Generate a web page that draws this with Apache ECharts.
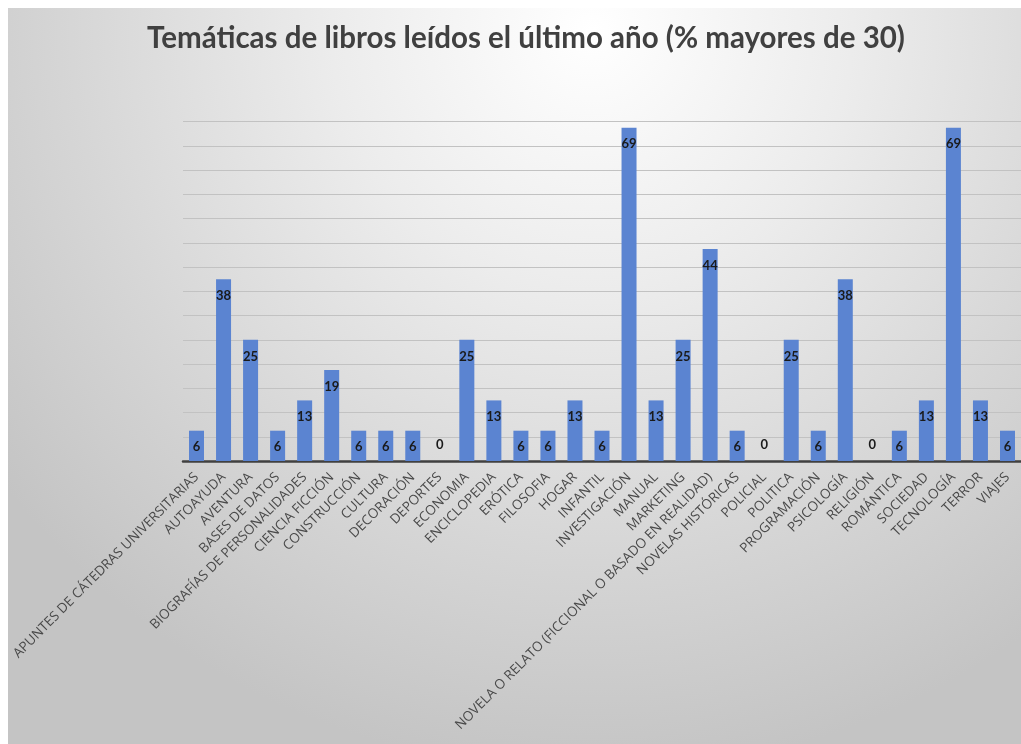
<!DOCTYPE html>
<html>
<head>
<meta charset="utf-8">
<script src="https://cdn.jsdelivr.net/npm/echarts@6/dist/echarts.min.js"></script>
<style>
html,body{margin:0;padding:0;background:#ffffff;}
#chart{width:1021px;height:744px;}
</style>
</head>
<body>
<div id="chart"></div>
<script>
const titleText = 'Temáticas de libros leídos el último año (% mayores de 30)';
const categories = [
  'APUNTES DE CÁTEDRAS UNIVERSITARIAS','AUTOAYUDA','AVENTURA','BASES DE DATOS',
  'BIOGRAFÍAS DE PERSONALIDADES','CIENCIA FICCIÓN','CONSTRUCCIÓN','CULTURA',
  'DECORACIÓN','DEPORTES','ECONOMIA','ENCICLOPEDIA','ERÓTICA','FILOSOFIA','HOGAR',
  'INFANTIL','INVESTIGACIÓN','MANUAL','MARKETING',
  'NOVELA O RELATO (FICCIONAL O BASADO EN REALIDAD)','NOVELAS HISTÓRICAS','POLICIAL',
  'POLITICA','PROGRAMACIÓN','PSICOLOGÍA','RELIGIÓN','ROMÁNTICA','SOCIEDAD',
  'TECNOLOGÍA','TERROR','VIAJES'
];
const values = [
  6.25, 37.5, 25, 6.25,
  12.5, 18.75, 6.25, 6.25,
  6.25, 0, 25, 12.5, 6.25, 6.25, 12.5,
  6.25, 68.75, 12.5, 25,
  43.75, 6.25, 0,
  25, 6.25, 37.5, 0, 6.25, 12.5,
  68.75, 12.5, 6.25
];
const yMin = 0, yMax = 70, yInterval = 5;

const chart = echarts.init(document.getElementById('chart'), null, {renderer: 'canvas'});
const option = {
  backgroundColor: {
    type: 'radial', x: 0.58, y: 0.04, r: 1.0,
    colorStops: [
      {offset: 0, color: '#ffffff'},
      {offset: 0.35, color: '#ececec'},
      {offset: 0.7, color: '#d6d6d6'},
      {offset: 1, color: '#c4c4c4'}
    ]
  },
  animation: false,
  title: {
    text: titleText,
    left: 521, top: 18, textAlign: 'center',
    textStyle: {fontFamily: 'Lato', fontSize: 29.5, fontWeight: 'bold', color: '#404040'}
  },
  graphic: [
    {type: 'rect', left: 0, top: 0, shape: {width: 1021, height: 8}, style: {fill: '#ffffff'}, z: 100},
    {type: 'rect', left: 0, top: 0, shape: {width: 8, height: 744}, style: {fill: '#ffffff'}, z: 100}
  ],
  grid: {left: 183, top: 121.7, width: 845, height: 339.3, containLabel: false},
  xAxis: {
    type: 'category',
    data: categories,
    axisLine: {lineStyle: {color: '#404040', width: 2.5}},
    axisTick: {show: false},
    axisLabel: {
      interval: 0, rotate: 45, margin: 14,
      fontFamily: 'Open Sans', fontSize: 13.5, color: '#4a4a4a'
    }
  },
  yAxis: {
    type: 'value', min: yMin, max: yMax, interval: yInterval,
    axisLabel: {show: false},
    axisLine: {show: false},
    axisTick: {show: false},
    splitLine: {lineStyle: {color: '#c2c2c2', width: 1}}
  },
  series: [{
    type: 'bar',
    barWidth: 15,
    itemStyle: {color: '#5b84d1'},
    data: values.map(v => v === 0
      ? {value: v, label: {position: 'top', distance: 10}}
      : {value: v}),
    label: {
      show: true, position: 'insideTop', distance: 10,
      formatter: p => String(Math.round(p.value)),
      fontFamily: 'Lato', fontWeight: 'bold', fontSize: 13, color: '#1a1a1a'
    }
  }]
};
chart.setOption(option);
</script>
</body>
</html>
